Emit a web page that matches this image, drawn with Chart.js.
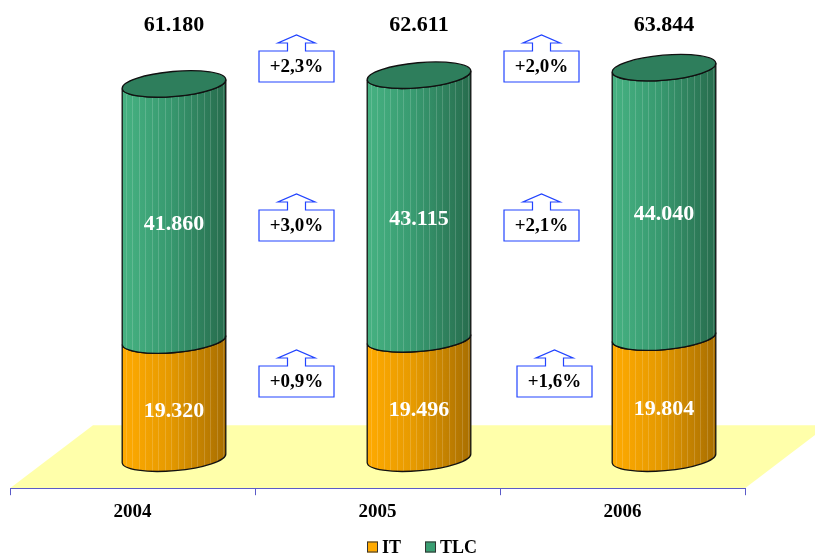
<!DOCTYPE html>
<html>
<head>
<meta charset="utf-8">
<script src="https://cdn.jsdelivr.net/npm/chart.js@4.4.0/dist/chart.umd.min.js"></script>
<style>
  html, body { margin: 0; padding: 0; background: #fff; }
  #wrap { width: 815px; height: 555px; }
</style>
</head>
<body>
<div id="wrap"><canvas id="itChart" width="815" height="555"></canvas></div>
<script>
// anni e valori del mercato
const years = ['2004', '2005', '2006'];
const itValues = [19320, 19496, 19804];
const tlcValues = [41860, 43115, 44040];
const totals = [61180, 62611, 63844];

// variazioni anno su anno (colonna 2004-05, 2005-06)
const growthTotal = ['+2,3%', '+2,0%'];
const growthTlc = ['+3,0%', '+2,1%'];
const growthIt = ['+0,9%', '+1,6%'];

const serif = "'Liberation Serif', 'Times New Roman', serif";
const depthX = 83, depthY = 63;   // profondita' del pavimento
const tilt = -0.087;              // rotazione delle ellissi
const ry = 12.5;

// posizione dei riquadri con le frecce
const boxTops = [51, 210, 366];
const boxNudge = [[0, 0, 0], [0, 0, 13]];

const itColors = ['#FFAA00', '#E69A00', '#A86E00'];
const tlcColors = ['#46B282', '#389A70', '#276C4D'];

function fmt(n) {
    return String(n).replace(/\B(?=(\d{3})+(?!\d))/g, '.');
}

function ellPt(cx, cy, rx, t) {
    const c = Math.cos(tilt), s = Math.sin(tilt);
    const x = rx * Math.cos(t), y = ry * Math.sin(t);
    return [cx + x * c - y * s, cy + x * s + y * c];
}

// disegna un tratto di cilindro tra yTop e yBot
function drawSegment(ctx, cx, yTop, yBot, rx, cols) {
    const L1 = ellPt(cx, yTop, rx, Math.PI);
    const L2 = ellPt(cx, yBot, rx, Math.PI);
    const R1 = ellPt(cx, yTop, rx, 0);
    ctx.beginPath();
    ctx.moveTo(L1[0], L1[1]);
    ctx.lineTo(L2[0], L2[1]);
    ctx.ellipse(cx, yBot, rx, ry, tilt, Math.PI, 0, true);
    ctx.lineTo(R1[0], R1[1]);
    ctx.ellipse(cx, yTop, rx, ry, tilt, 0, Math.PI, false);
    ctx.closePath();

    const g = ctx.createLinearGradient(cx - rx, 0, cx + rx, 0);
    g.addColorStop(0, cols[0]);
    g.addColorStop(0.45, cols[1]);
    g.addColorStop(1, cols[2]);
    ctx.fillStyle = g;
    ctx.fill();

    // righe verticali chiare
    ctx.save();
    ctx.clip();
    ctx.strokeStyle = 'rgba(255,255,255,0.16)';
    ctx.lineWidth = 1;
    for (let x = cx - rx + 4; x < cx + rx; x += 6.5) {
        ctx.beginPath();
        ctx.moveTo(Math.round(x) + 0.5, yTop - 20);
        ctx.lineTo(Math.round(x) + 0.5, yBot + 20);
        ctx.stroke();
    }
    ctx.restore();

    ctx.beginPath();
    ctx.moveTo(L1[0], L1[1]);
    ctx.lineTo(L2[0], L2[1]);
    ctx.ellipse(cx, yBot, rx, ry, tilt, Math.PI, 0, true);
    ctx.lineTo(R1[0], R1[1]);
    ctx.ellipse(cx, yTop, rx, ry, tilt, 0, Math.PI, false);
    ctx.strokeStyle = '#111';
    ctx.lineWidth = 1.3;
    ctx.stroke();
}

function drawArrowBox(ctx, cx, top, text) {
    const w = 75, h = 31, left = cx - w / 2;
    ctx.beginPath();
    ctx.moveTo(cx - 9, top);
    ctx.lineTo(cx - 9, top - 8);
    ctx.lineTo(cx - 18.5, top - 8);
    ctx.lineTo(cx, top - 16);
    ctx.lineTo(cx + 18.5, top - 8);
    ctx.lineTo(cx + 9, top - 8);
    ctx.lineTo(cx + 9, top);
    ctx.lineTo(left + w, top);
    ctx.lineTo(left + w, top + h);
    ctx.lineTo(left, top + h);
    ctx.lineTo(left, top);
    ctx.closePath();
    ctx.fillStyle = '#fff';
    ctx.fill();
    ctx.strokeStyle = '#2244FF';
    ctx.lineWidth = 1.2;
    ctx.stroke();
    ctx.fillStyle = '#000';
    ctx.font = 'bold 19px ' + serif;
    ctx.textAlign = 'center';
    ctx.textBaseline = 'middle';
    ctx.fillText(text, cx, top + h / 2 + 1);
}

const cylinderPlugin = {
    id: 'cylinders',
    beforeDraw(chart) {
        // pavimento giallo
        const ctx = chart.ctx, a = chart.chartArea;
        ctx.save();
        ctx.beginPath();
        ctx.moveTo(a.left, a.bottom);
        ctx.lineTo(a.left + depthX, a.bottom - depthY);
        ctx.lineTo(a.right + depthX, a.bottom - depthY);
        ctx.lineTo(a.right, a.bottom);
        ctx.closePath();
        ctx.fillStyle = '#FFFFAA';
        ctx.fill();
        ctx.restore();
    },
    beforeDatasetsDraw(chart) {
        const ctx = chart.ctx;
        const itMeta = chart.getDatasetMeta(0);
        const tlcMeta = chart.getDatasetMeta(1);
        ctx.save();
        itMeta.data.forEach((bar, i) => {
            const it = bar.getProps(['x', 'y', 'base', 'width'], true);
            const tlc = tlcMeta.data[i].getProps(['x', 'y', 'base', 'width'], true);
            const cx = it.x + depthX / 2;
            const rx = it.width / 2;
            drawSegment(ctx, cx, it.y, it.base, rx, itColors);
            drawSegment(ctx, cx, tlc.y, tlc.base, rx, tlcColors);
            // coperchio
            ctx.beginPath();
            ctx.ellipse(cx, tlc.y, rx, ry, tilt, 0, Math.PI * 2);
            ctx.fillStyle = '#2E7E5C';
            ctx.fill();
            ctx.strokeStyle = '#111';
            ctx.lineWidth = 1.3;
            ctx.stroke();

            ctx.fillStyle = '#fff';
            ctx.font = 'bold 22px ' + serif;
            ctx.textAlign = 'center';
            ctx.textBaseline = 'middle';
            ctx.fillText(fmt(itValues[i]), cx, (it.y + it.base) / 2 + 12);
            ctx.fillText(fmt(tlcValues[i]), cx, (tlc.y + tlc.base) / 2 + 12);

            ctx.fillStyle = '#000';
            ctx.fillText(fmt(totals[i]), cx, 25);
        });
        ctx.restore();
        return false;
    },
    afterDraw(chart) {
        const ctx = chart.ctx;
        const xs = chart.scales.x;
        ctx.save();
        const rows = [growthTotal, growthTlc, growthIt];
        for (let k = 0; k < years.length - 1; k++) {
            const edge = (xs.getPixelForValue(k) + xs.getPixelForValue(k + 1)) / 2;
            rows.forEach((row, r) => {
                drawArrowBox(ctx, edge + depthX / 2 + boxNudge[k][r], boxTops[r], row[k]);
            });
        }

        // legenda
        const y = 547;
        let x = 367;
        chart.data.datasets.forEach(ds => {
            ctx.fillStyle = ds.legendColor;
            ctx.fillRect(x, y - 5.5, 11, 11);
            ctx.strokeStyle = '#333';
            ctx.lineWidth = 1;
            ctx.strokeRect(x + 0.5, y - 5, 10, 10);
            ctx.fillStyle = '#000';
            ctx.font = 'bold 18px ' + serif;
            ctx.textAlign = 'left';
            ctx.textBaseline = 'middle';
            ctx.fillText(ds.label, x + 15, y + 1);
            x += 15 + ctx.measureText(ds.label).width + 24;
        });
        ctx.restore();
    }
};

const ctx = document.getElementById('itChart').getContext('2d');
const chart = new Chart(ctx, {
    type: 'bar',
    data: {
        labels: years,
        datasets: [
            { label: 'IT', data: itValues, backgroundColor: '#FFAA00', legendColor: '#FFAA00' },
            { label: 'TLC', data: tlcValues, backgroundColor: '#3A9E72', legendColor: '#3A9E72' }
        ]
    },
    options: {
        responsive: false,
        animation: false,
        devicePixelRatio: 1,
        layout: { padding: { left: 10, right: 70, top: 30, bottom: 27 } },
        datasets: { bar: { barPercentage: 1, categoryPercentage: 0.4245 } },
        plugins: {
            legend: { display: false },
            tooltip: { enabled: false }
        },
        scales: {
            x: {
                stacked: true,
                grid: {
                    offset: true,
                    drawOnChartArea: false,
                    tickLength: 7,
                    color: '#5B5BC8'
                },
                border: { color: '#5B5BC8' },
                ticks: {
                    color: '#000',
                    padding: 5,
                    font: { family: serif, size: 19, weight: 'bold' }
                }
            },
            y: {
                stacked: true,
                display: false,
                min: -4900,
                max: 70000
            }
        }
    },
    plugins: [cylinderPlugin]
});
</script>
</body>
</html>
